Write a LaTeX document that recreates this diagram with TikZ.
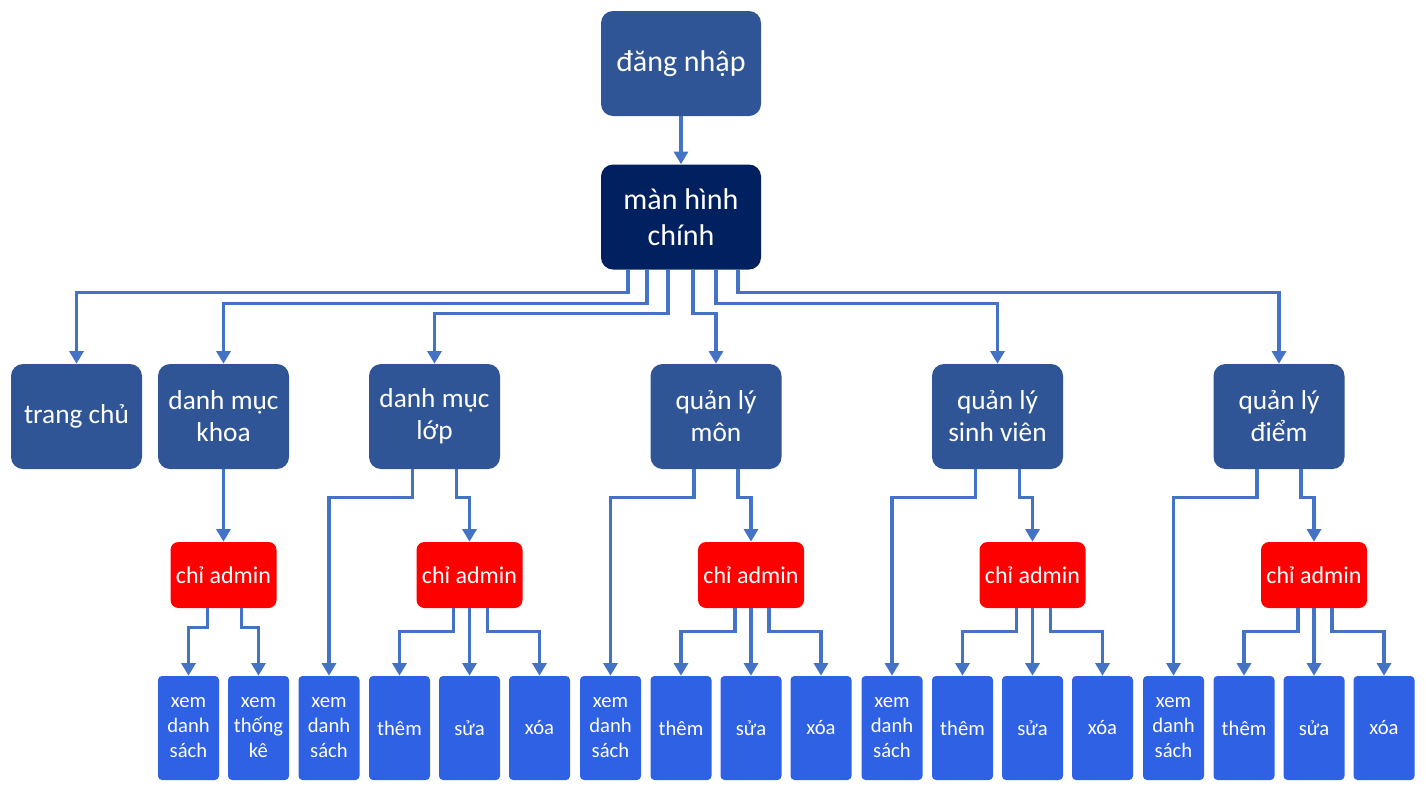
\documentclass[tikz,border=0pt]{standalone}
\usepackage{fontspec}
\setmainfont{Carlito}
\usetikzlibrary{positioning,calc,arrows.meta}

% ---- colors
\definecolor{boxBlue}{RGB}{47,85,151}
\definecolor{mainNavy}{RGB}{0,32,96}
\definecolor{adminRed}{RGB}{255,0,0}
\definecolor{leafBlue}{RGB}{47,97,229}
\definecolor{lineBlue}{RGB}{68,114,196}

\begin{document}
\begin{tikzpicture}[
		x=0.75pt,y=-0.75pt,
		>={Triangle[width=10.5pt,length=9.5pt]},
		bigbox/.style={fill=boxBlue, text=white, rounded corners=9pt, inner sep=0pt,
			minimum width=98.25pt, minimum height=78.75pt, align=center,
			font=\fontsize{20.5}{24}\selectfont},
		topbox/.style={bigbox, minimum width=120pt, font=\fontsize{22.5}{27}\selectfont},
		adminbox/.style={fill=adminRed, text=white, rounded corners=6pt, inner sep=0pt,
			minimum width=79.5pt, minimum height=49.5pt,
			font=\fontsize{18}{21}\selectfont},
		leafbox/.style={fill=leafBlue, text=white, rounded corners=3pt, inner sep=0pt,
			minimum width=45.75pt, minimum height=78pt, align=center,
			font=\fontsize{15.5}{18.75}\selectfont},
		link/.style={lineBlue, line width=2.4pt, ->}
		]
		\useasboundingbox (0,0) rectangle (1426,793);
		
		% ---- top
		\node[topbox] (login) at (681,63.5) {đăng nhập};
		\node[topbox, fill=mainNavy] (main) at (681,217) {màn hình\\chính};
		\draw[link] (login.south) -- (main.north);
		
		% ---- second row (no admin part)
		\node[bigbox] (home) at (76.5,416.5) {trang chủ};
		\node[bigbox] (khoa) at (223.5,416.5) {danh mục\\khoa};
		
		% ---- khoa: chỉ admin -> xem danh sách / xem thống kê
		\node[adminbox] (khoa-admin) at (223.5,575) {chỉ admin};
		\node[leafbox] (khoa-xem) at (188.5,728) {xem\\danh\\sách};
		\node[leafbox] (khoa-tk) at (258.5,728) {xem\\thống\\kê};
		\draw[link] (khoa.south) -- (khoa-admin.north);
		\draw[link] ($(khoa-admin.south)+(-16,0)$) -- ++(0,19) -| (khoa-xem.north);
		\draw[link] ($(khoa-admin.south)+(18,0)$) -- ++(0,19) -| (khoa-tk.north);
		
		% ---- other columns: xem danh sách + chỉ admin -> thêm / sửa / xóa
		\foreach \nm/\lbl/\cx in {lop/{danh mục\\lớp}/434.5, mon/{quản lý\\môn}/716,
			sv/{quản lý\\sinh viên}/997.5, diem/{quản lý\\điểm}/1279}{
			\node[bigbox] (\nm) at (\cx,416.5) {\lbl};
			\node[adminbox] (\nm-admin) at (\cx+35,575) {chỉ admin};
			\node[leafbox] (\nm-xem) at (\cx-105.5,728) {xem\\danh\\sách};
			\node[leafbox] (\nm-them) at (\cx-35,728) {thêm};
			\node[leafbox] (\nm-sua) at (\cx+35,728) {sửa};
			\node[leafbox] (\nm-xoa) at (\cx+105,728) {xóa};
			\draw[link] ($(\nm.south)+(-22,0)$) -- ++(0,28) -| (\nm-xem.north);
			\draw[link] ($(\nm.south)+(22,0)$) -- ++(0,28) -| (\nm-admin.north);
			\draw[link] ($(\nm-admin.south)+(-16,0)$) -- ++(0,23) -| (\nm-them.north);
			\draw[link] (\nm-admin.south) -- (\nm-sua.north);
			\draw[link] ($(\nm-admin.south)+(18,0)$) -- ++(0,23) -| (\nm-xoa.north);
		}
		
		% ---- main screen -> modules
		\draw[link] ($(main.south)+(-53,0)$) -- ++(0,23) -| (home.north);
		\draw[link] ($(main.south)+(-34,0)$) -- ++(0,34) -| (khoa.north);
		\draw[link] ($(main.south)+(-13,0)$) -- ++(0,44) -| (lop.north);
		\draw[link] ($(main.south)+(12,0)$) -- ++(0,44) -| (mon.north);
		\draw[link] ($(main.south)+(35,0)$) -- ++(0,34) -| (sv.north);
		\draw[link] ($(main.south)+(57,0)$) -- ++(0,23) -| (diem.north);
		
	\end{tikzpicture}
\end{document}
